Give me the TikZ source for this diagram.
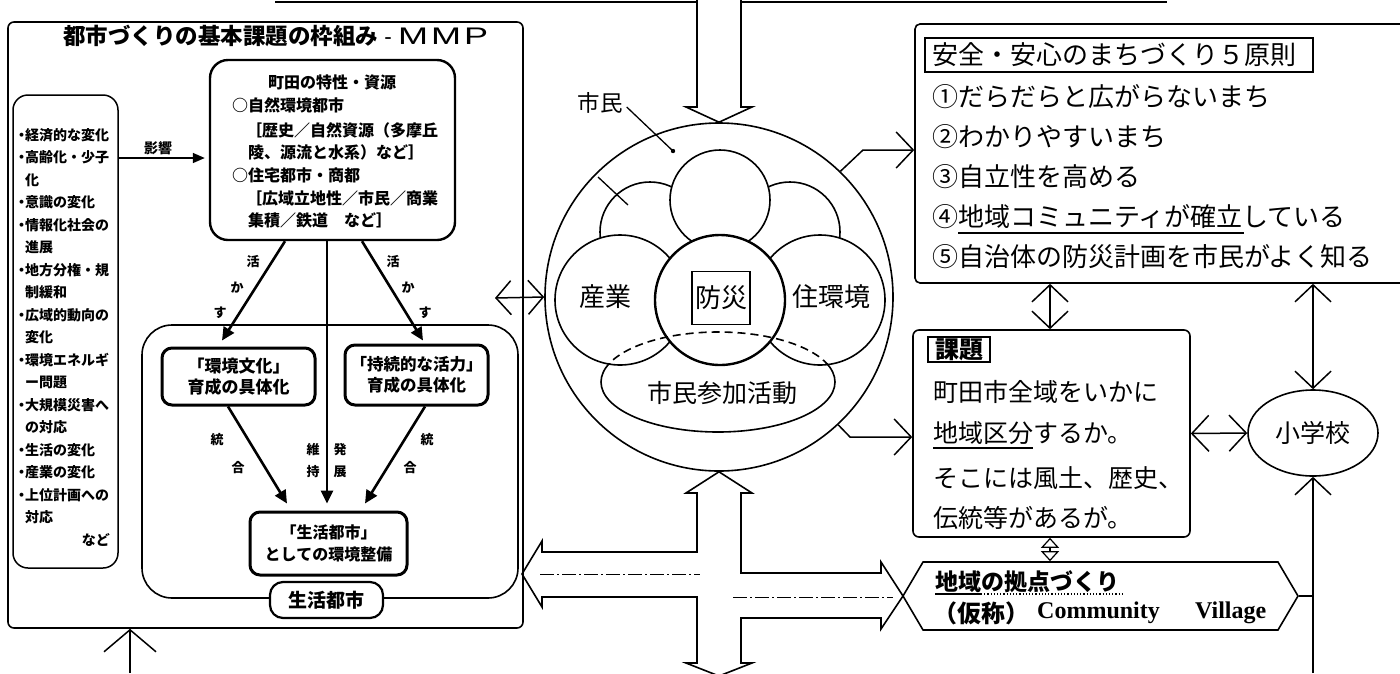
\documentclass[tikz,border=0pt]{standalone}
\usepackage{fontspec}
\usepackage{graphicx}
\setmainfont{Noto Sans CJK JP}
\newfontfamily\latinserif{Liberation Serif}
\newfontfamily\latinsans{Liberation Sans}
\usetikzlibrary{arrows.meta,calc,shapes.symbols,shapes.geometric}
\newcommand\fsz[1]{\fontsize{#1}{#1}\selectfont}
\newcommand\bu{\makebox[7pt][c]{・}}
\newcommand\ind{\hspace*{7pt}}
\tikzset{
  lw/.style={line width=1.6pt},
  thickbox/.style={draw, line width=3pt, rounded corners=10pt},
  bar/.style={line width=2.6pt, -{Triangle[length=13pt,width=12pt]}},
  barbboth/.style={line width=1.5pt, {Straight Barb[length=17pt,width=36pt]}-{Straight Barb[length=17pt,width=36pt]}},
  barbend/.style={line width=1.5pt, -{Straight Barb[length=17pt,width=36pt]}},
  lbl/.style={font=\fontsize{13}{13}\selectfont\bfseries},
}
\begin{document}
\begin{tikzpicture}[x=1pt,y=-1pt, every node/.style={inner sep=0pt}]
\useasboundingbox (0,0) rectangle (1400,673);
\fill[white] (0,0) rectangle (1400,673);

% top line
\draw[line width=2.5pt] (275,2) -- (697,2) (741,2) -- (1167,2);

% ===== left framework =====
\node[draw, lw, rounded corners=6pt, minimum width=515pt, minimum height=606pt] (outer) at (265.5,325) {};
\node[anchor=west] (title) at (63,36) {\fsz{22.5}\bfseries 都市づくりの基本課題の枠組み\makebox[20pt]{\latinsans\mdseries -}{\latinsans\mdseries\fsz{24}\scalebox{1.5}[1]{M\kern2pt M\kern2pt P}}};

\node[draw, line width=1.5pt, rounded corners=15pt, minimum width=105pt, minimum height=473pt] (listbox) at (65.5,331.5) {};
\foreach \t [count=\i from 0] in {\bu 経済的な変化,\bu 高齢化・少子,\ind 化,\bu 意識の変化,\bu 情報化社会の,\ind 進展,\bu 地方分権・規,\ind 制緩和,\bu 広域的動向の,\ind 変化,\bu 環境エネルギ,\ind ー問題,\bu 大規模災害へ,\ind の対応,\bu 生活の変化,\bu 産業の変化,\bu 上位計画への,\ind 対応}
  \node[anchor=west] (L\i) at (18,{135+22.5*\i}) {\fsz{14}\bfseries \t};
\node[anchor=east] (nado) at (110,540) {\fsz{14}\bfseries など};

\node[draw, line width=2.4pt, rounded corners=18pt, minimum width=245pt, minimum height=180pt] (machida) at (332.5,150) {};
\node (mt) at (332,82) {\fsz{16}\bfseries 町田の特性・資源};
\node[anchor=west] (m1) at (232,105) {\fsz{16}\bfseries ○自然環境都市};
\node[anchor=west] (m2) at (246,130) {\fsz{16}\bfseries ［歴史／自然資源（多摩丘};
\node[anchor=west] (m3) at (248,152) {\fsz{16}\bfseries 陵、源流と水系）など］};
\node[anchor=west] (m4) at (232,175) {\fsz{16}\bfseries ○住宅都市・商都};
\node[anchor=west] (m5) at (246,198) {\fsz{16}\bfseries ［広域立地性／市民／商業};
\node[anchor=west] (m6) at (248,220) {\fsz{16}\bfseries 集積／鉄道　など］};

\draw[line width=1.5pt, -{Triangle[length=12pt,width=10pt]}, shorten >=4pt] (listbox.east |- 0,158) -- (machida.west |- 0,158);
\node (eikyo) at (158,148) {\fsz{14}\bfseries 影響};

\node[draw, lw, rounded corners=30pt, minimum width=376pt, minimum height=273pt] (cont) at (330,461.5) {};
\node[thickbox, minimum width=153pt, minimum height=57pt, align=center, font=\fontsize{17}{21}\selectfont\bfseries] (kankyo) at (238.5,376.5) {「環境文化」\\育成の具体化};
\node[thickbox, minimum width=143pt, minimum height=60pt, align=center, font=\fontsize{16.5}{21}\selectfont\bfseries] (jizoku) at (416.5,375) {「持続的な活力」\\育成の具体化};
\node[thickbox, minimum width=157pt, minimum height=63pt, align=center, font=\fontsize{16}{22}\selectfont\bfseries] (seik) at (328.5,543.5) {「生活都市」\\としての環境整備};
\node[draw, line width=2.2pt, rounded corners=13pt, fill=white, minimum width=113pt, minimum height=36pt] (pill) at (326.5,600) {\fsz{19}\bfseries 生活都市};

\draw[bar] ($(machida.south)+(-47.5,0)$) -- ($(kankyo.north)+(-16.5,-6)$);
\draw[bar] ($(machida.south)+(-5.5,0)$) -- ($(seik.north)+(-1.5,-7)$);
\draw[bar] ($(machida.south)+(29.5,0)$) -- ($(jizoku.north)+(6.5,-3)$);
\draw[bar] ($(kankyo.south)+(-10.5,0)$) -- ($(seik.north)+(-41.5,-7)$);
\draw[bar] ($(jizoku.south)+(8.5,0)$) -- ($(seik.north)+(36.5,-7)$);

\node[lbl] (k1) at (253,262) {活};
\node[lbl] (k2) at (237,288) {か};
\node[lbl] (k3) at (220,313) {す};
\node[lbl] (k4) at (393,262) {活};
\node[lbl] (k5) at (408,288) {か};
\node[lbl] (k6) at (425,313) {す};
\node[lbl] (t1) at (217,440) {統};
\node[lbl] (t2) at (238,468) {合};
\node[lbl] (t3) at (427,440) {統};
\node[lbl] (t4) at (410,468) {合};
\node[lbl] (i1) at (313,450) {維};
\node[lbl] (i2) at (313,472) {持};
\node[lbl] (h1) at (340,450) {発};
\node[lbl] (h2) at (340,472) {展};

\coordinate (ub) at (130,673);
\draw[line width=1.5pt, -{Straight Barb[length=22pt,width=52pt]}] (ub) -- (outer.south -| ub);

% ===== center =====
\node[circle, draw, lw, minimum size=348pt] (big) at (719,297) {};
\draw[lw, fill=white] (697,0) -- (697,107) -- (686,107) -- (big.north) -- (752,107) -- (741,107) -- (741,0);

\begin{scope}[even odd rule]
  \clip (0,0) rectangle (1400,673) (720,300) circle (65);
  \draw[lw] (620,300) circle (65);
  \draw[lw] (820,300) circle (65);
  \draw[lw] (720,200) circle (50);
\end{scope}
\draw[line width=2.4pt] (720,300) circle (65);
\begin{scope}[even odd rule]
  \clip (0,0) rectangle (1400,673) (720,200) circle (50);
  \clip (0,0) rectangle (1400,673) (620,300) circle (65);
  \clip (0,0) rectangle (1400,673) (820,300) circle (65);
  \clip (0,0) rectangle (1400,673) (720,300) circle (65);
  \draw[lw] (650,232) circle (50);
  \draw[lw] (790,232) circle (50);
\end{scope}
\begin{scope}
  \clip (540,363) rectangle (900,440);
  \draw[lw] (718,382) ellipse [x radius=117, y radius=50];
\end{scope}
\begin{scope}
  \clip (540,320) rectangle (900,363);
  \draw[lw, dash pattern=on 8pt off 5pt] (718,382) ellipse [x radius=117, y radius=50];
\end{scope}

\node (sangyo) at (605,297) {\fsz{26}産業};
\node[draw, line width=1.2pt, minimum width=58pt, minimum height=53pt] (bosai) at (721,298) {\fsz{26}防災};
\node (jukankyo) at (831,297) {\fsz{26}住環境};
\node (sanka) at (722,393) {\fsz{25}市民参加活動};
\node (shimin) at (600,103) {\fsz{22.5}市民};
\coordinate (sdot) at (673,151);
\draw[line width=1.3pt] (shimin.east) ++(4,4) -- (sdot);
\fill (sdot) circle (2.2);
\coordinate (tk1) at (598,177);
\coordinate (tk2) at (628,205);
\draw[line width=1.3pt] (tk1) -- (tk2);

\coordinate (dl) at (495,298);
\draw[line width=1.5pt, {Straight Barb[length=15pt,width=34pt]}-{Straight Barb[length=15pt,width=34pt]}] (dl) -- (big.west);

% cross block arrow
\coordinate (hexW) at (903,596);
\draw[lw] (big.south) -- (752,493) -- (741,493) -- (741,573) -- (881,573) -- (881,562) -- (hexW)
  -- (881,629) -- (881,618) -- (741,618) -- (741,663) -- (752,663) -- (719,676) -- (686,663) -- (697,663)
  -- (697,597) -- (542,597) -- (542,607) -- (522,574) -- (542,541) -- (542,552) -- (697,552) -- (697,493) -- (686,493) -- cycle;
\draw[line width=0.9pt, dash pattern=on 14pt off 3pt on 2pt off 3pt] (540,574) -- (700,574);
\draw[line width=0.9pt, dash pattern=on 14pt off 3pt on 2pt off 3pt] (733,597) -- (893,597);

% ===== right side =====
\node[draw, lw, rounded corners=5pt, minimum width=505pt, minimum height=259pt] (princ) at (1167.5,153.5) {};
\node[draw, line width=1.5pt, minimum width=388pt, minimum height=34pt] (ptbox) at (1119,55) {};
\node[anchor=west] (pt) at (932,55) {\fsz{26}安全・安心のまちづくり５原則};
\node[anchor=west] (p1) at (932,97) {\fsz{26}①だらだらと広がらないまち};
\node[anchor=west] (p2) at (932,137) {\fsz{26}②わかりやすいまち};
\node[anchor=west] (p3) at (932,177) {\fsz{26}③自立性を高める};
\node[anchor=west] (p4) at (932,217) {\fsz{26}④地域コミュニティが確立している};
\node[anchor=west] (p5) at (932,257) {\fsz{26}⑤自治体の防災計画を市民がよく知る};
\draw[line width=1.4pt] (958,233) -- (1244,233);

\node[draw, lw, rounded corners=6pt, minimum width=277pt, minimum height=207pt] (kadai) at (1051.5,433.5) {};
\node[draw, line width=1.5pt, minimum width=62pt, minimum height=25pt] (kt) at (959,349.5) {\fsz{24}\bfseries 課題};
\node[anchor=west] (k1r) at (933,392) {\fsz{25}町田市全域をいかに};
\node[anchor=west] (k2r) at (933,433) {\fsz{25}地域区分するか。};
\node[anchor=west] (k3r) at (933,478) {\fsz{25}そこには風土、歴史、};
\node[anchor=west] (k4r) at (933,518) {\fsz{25}伝統等があるが。};
\draw[line width=1.4pt] (933,448) -- (1033,448);

\node[ellipse, draw, lw, minimum width=130pt, minimum height=86pt] (sho) at (1313,433) {\fsz{25}小学校};

\node[signal, signal to=west and east, signal pointer angle=119, draw, lw, minimum width=395pt, minimum height=68pt] (hex) at (1100.5,596) {};
\node[anchor=west] (x1) at (935,582) {\fsz{23}\bfseries 地域の拠点づくり};
\draw[line width=1.2pt] (935,594) -- (981,594);
\draw[line width=1.2pt, dotted] (981,594) -- (1122,594);
\node[anchor=west] (x2) at (933,613) {\fsz{24}\bfseries （仮称）};
\node[anchor=west] (x3) at (1037,613) {\latinserif\bfseries\fsz{24}Community};
\node[anchor=west] (x4) at (1195,613) {\latinserif\bfseries\fsz{24}Village};

\draw[barbend] (big.46) -- (863,150) -- (princ.west |- 0,150);
\draw[barbend] (big.-47) -- (850,437) -- (kadai.west |- 0,437);

\coordinate (vx) at (1050,0);
\draw[barbboth] (princ.south -| vx) -- (kadai.north -| vx);
\draw[barbboth] (princ.south -| sho) -- (sho.north);
\draw[barbboth] (kadai.east) -- (sho.west);
\coordinate (sb) at (1313,673);
\draw[barbend] (sb) -- (sho.south);
\draw[line width=1.5pt] (hex.east) -- (hex.east -| sb);
\draw[line width=1.2pt, {Triangle[open,length=10pt,width=18pt]}-{Triangle[open,length=10pt,width=18pt]}] (kadai.south -| vx) -- (hex.north -| vx);
\end{tikzpicture}
\end{document}
